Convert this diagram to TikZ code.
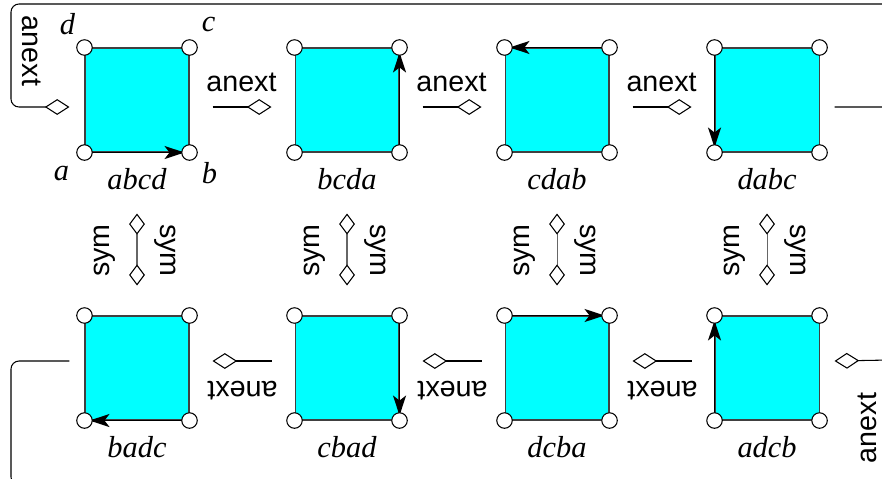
\documentclass[tikz,border=0pt]{standalone}
\usepackage{fontspec}
\setmainfont{Liberation Serif}
\newfontfamily\hv{Liberation Sans}
\usetikzlibrary{positioning,arrows.meta}
\definecolor{sqcyan}{RGB}{0,255,255}

\begin{document}
\begin{tikzpicture}[x=0.02cm,y=-0.02cm,line width=0.6pt,
		sq/.style={draw=black!75,fill=sqcyan,minimum size=2.08cm,inner sep=0pt},
		crn/.style={circle,draw,fill=white,minimum size=0.31cm,inner sep=0pt},
		it/.style={font=\fontsize{17.3}{20}\selectfont\itshape,inner sep=0pt},
		sf/.style={font=\hv\fontsize{16.3}{19}\selectfont,inner sep=0pt},
		nx/.style={-{Diamond[fill=white,length=14pt,width=9pt]}},
		sy/.style={draw=black!60,{Diamond[fill=white,color=black,length=12pt,width=9pt]}-{Diamond[fill=white,color=black,length=12pt,width=9pt]}},
		tour/.style={-{Stealth[length=0.4cm,width=0.26cm,inset=0.1cm]},line width=0.9pt,shorten >=0.1cm},
		node distance=2.1cm]
		\useasboundingbox (0,0) rectangle (882,478);
		\clip (0,0) rectangle (882,478);
		
		\node[sq] (abcd) at (137,100) {};
		\node[sq,right=of abcd] (bcda) {};
		\node[sq,right=of bcda] (cdab) {};
		\node[sq,right=of cdab] (dabc) {};
		\node[sq,below=3.26cm of abcd] (badc) {};
		\node[sq,right=of badc] (cbad) {};
		\node[sq,right=of cbad] (dcba) {};
		\node[sq,right=of dcba] (adcb) {};
		
		% the tour of each square
		\draw[tour] (abcd.south west)--(abcd.south east);
		\draw[tour] (bcda.south east)--(bcda.north east);
		\draw[tour] (cdab.north east)--(cdab.north west);
		\draw[tour] (dabc.north west)--(dabc.south west);
		\draw[tour] (badc.south east)--(badc.south west);
		\draw[tour] (cbad.north east)--(cbad.south east);
		\draw[tour] (dcba.north west)--(dcba.north east);
		\draw[tour] (adcb.south west)--(adcb.north west);
		
		\foreach \s in {abcd,bcda,cdab,dabc,badc,cbad,dcba,adcb}{
			\foreach \c/\k in {south west/sw,south east/se,north east/ne,north west/nw}
				\node[crn] (\s-\k) at (\s.\c) {};
			\node[it,below=0.3cm of \s] (\s-t) {\s};
		}
		
		\node[it] (va) at ([xshift=-0.46cm,yshift=-0.42cm]abcd.south west) {a};
		\node[it] (vb) at ([xshift=0.4cm,yshift=-0.42cm]abcd.south east) {b};
		\node[it] (vc) at ([xshift=0.38cm,yshift=0.46cm]abcd.north east) {c};
		\node[it] (vd) at ([xshift=-0.34cm,yshift=0.46cm]abcd.north west) {d};
		
		% anext along the rows
		\foreach \p/\q in {abcd/bcda,bcda/cdab,cdab/dabc}{
			\draw[nx] ([xshift=0.46cm,yshift=-0.14cm]\p.east)--([xshift=-0.46cm,yshift=-0.14cm]\q.west);
			\node[sf] (\p-nx) at ([xshift=1.04cm,yshift=0.36cm]\p.east) {anext};
		}
		\foreach \p/\q in {cbad/badc,dcba/cbad,adcb/dcba}{
			\draw[nx] ([xshift=-0.46cm,yshift=0.14cm]\p.west)--([xshift=0.46cm,yshift=0.14cm]\q.east);
			\node[sf,rotate=180] (\p-nx) at ([xshift=-1.04cm,yshift=-0.46cm]\p.west) {anext};
		}
		
		% wrap round
		\draw[nx,rounded corners=0.16cm] ([xshift=0.3cm,yshift=-0.14cm]dabc.east) -| (890,4) -| (11,107)
			-- ([xshift=-0.3cm,yshift=-0.14cm]abcd.west);
		\node[sf,rotate=-90] (top-nx) at (32,51) {anext};
		\draw[nx,rounded corners=0.16cm] ([xshift=-0.3cm,yshift=0.14cm]badc.west) -| (11,485) -| (890,360)
			-- ([xshift=0.3cm,yshift=0.14cm]adcb.east);
		\node[sf,rotate=90] (bot-nx) at (867,428) {anext};
		
		% sym between the rows
		\foreach \p/\q in {abcd/badc,bcda/cbad,cdab/dcba,dabc/adcb}{
			\draw[sy] ([yshift=-1.22cm]\p.south)--([yshift=0.6cm]\q.north);
			\node[sf,rotate=90] (\p-syl) at ([xshift=-0.64cm,yshift=-1.96cm]\p.south) {sym};
			\node[sf,rotate=-90] (\p-syr) at ([xshift=0.56cm,yshift=-1.96cm]\p.south) {sym};
		}
		
\end{tikzpicture}
\end{document}
